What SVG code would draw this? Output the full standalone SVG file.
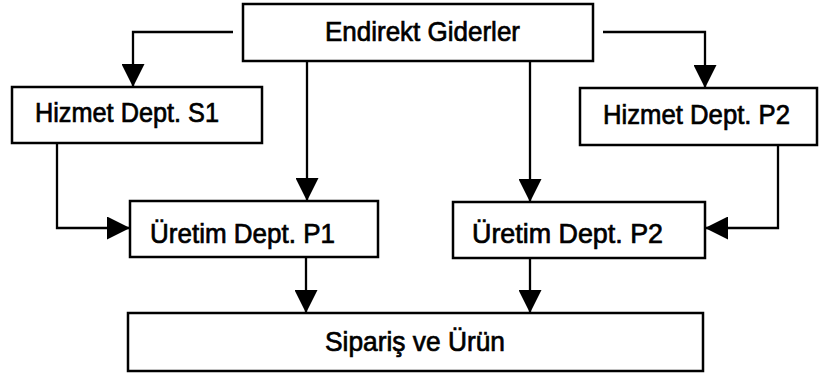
<svg xmlns="http://www.w3.org/2000/svg" width="820" height="374" viewBox="0 0 820 374">
<defs>
<marker id="arr" markerUnits="userSpaceOnUse" markerWidth="23" markerHeight="23" refX="22" refY="11" orient="auto" viewBox="0 0 22 22">
<path d="M0,0 L22,11 L0,22 z" fill="#000"/>
</marker>
<style>
.box{fill:#fff;stroke:#000;stroke-width:2.5}
.lbl{font-family:"Liberation Sans",Arial,sans-serif;font-size:27.5px;fill:#000;stroke:#000;stroke-width:0.7}
.c{fill:none;stroke:#000;stroke-width:2.3;marker-end:url(#arr)}
</style>
</defs>
<rect width="820" height="374" fill="#fff"/>
<g id="connectors">
<polyline class="c" points="233,32 133,32 133,87"/>
<polyline class="c" points="603,32 705,32 705,88"/>
<polyline class="c" points="307,61 307,201"/>
<polyline class="c" points="530,61 530,202"/>
<polyline class="c" points="57,143 57,228 130,228"/>
<polyline class="c" points="778,145 778,228 705,228"/>
<polyline class="c" points="306,257 306,313"/>
<polyline class="c" points="530,258 530,313"/>
</g>
<g id="endirekt">
<rect class="box" x="243" y="4" width="350" height="57"/>
<text class="lbl" x="325" y="41" textLength="195" lengthAdjust="spacingAndGlyphs">Endirekt Giderler</text>
</g>
<g id="hizmet-s1">
<rect class="box" x="12" y="87" width="250" height="56"/>
<text class="lbl" x="35" y="122" textLength="184" lengthAdjust="spacingAndGlyphs">Hizmet Dept. S1</text>
</g>
<g id="hizmet-p2">
<rect class="box" x="580" y="88" width="237" height="57"/>
<text class="lbl" x="603" y="124" textLength="187" lengthAdjust="spacingAndGlyphs">Hizmet Dept. P2</text>
</g>
<g id="uretim-p1">
<rect class="box" x="130" y="201" width="248" height="56"/>
<text class="lbl" x="150" y="243" textLength="185" lengthAdjust="spacingAndGlyphs">Üretim Dept. P1</text>
</g>
<g id="uretim-p2">
<rect class="box" x="453" y="202" width="252" height="56"/>
<text class="lbl" x="472" y="243" textLength="191" lengthAdjust="spacingAndGlyphs">Üretim Dept. P2</text>
</g>
<g id="siparis">
<rect class="box" x="128" y="313" width="575" height="58"/>
<text class="lbl" x="325" y="351" textLength="180" lengthAdjust="spacingAndGlyphs">Sipariş ve Ürün</text>
</g>
</svg>
